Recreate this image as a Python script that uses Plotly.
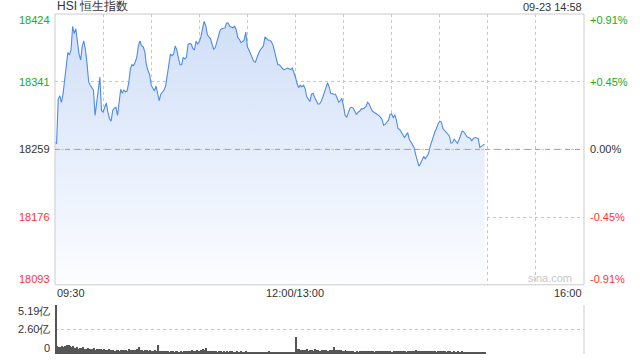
import plotly.graph_objects as go

# ---- data ----
title_text = "HSI 恒生指数"
stamp_text = "09-23 14:58"
prev_close = 18258.5
price_ticks = [18424, 18341, 18259, 18176, 18093]
price_tick_vals = [18424, 18341.25, 18258.5, 18175.75, 18093]
pct_labels = ["+0.91%", "+0.45%", "0.00%", "-0.45%", "-0.91%"]
time_tick_pos = [0, 150, 330]
time_tick_labels = ["09:30", "12:00/13:00", "16:00"]
vol_ticks = [0, 2.60, 5.19]
vol_tick_labels = ["0", "2.60亿", "5.19亿"]

# minute index since 09:30 (trading minutes, lunch removed), 0..268
price = [
    18267, 18266, 18320, 18324, 18316, 18326, 18343, 18359, 18377, 18374,
    18380, 18409, 18400, 18406, 18390, 18375, 18368, 18385, 18391, 18380,
    18363, 18341, 18337, 18333, 18331, 18300, 18317, 18335, 18347, 18306,
    18304, 18310, 18315, 18304, 18296, 18293, 18306, 18309, 18310, 18300,
    18316, 18332, 18327, 18331, 18329, 18330, 18340, 18357, 18362, 18361,
    18365, 18371, 18385, 18391, 18385, 18384, 18378, 18362, 18355, 18350,
    18337, 18334, 18330, 18336, 18327, 18318, 18326, 18328, 18331, 18336,
    18350, 18365, 18375, 18373, 18375, 18385, 18380, 18370, 18362, 18362,
    18371, 18369, 18371, 18387, 18388, 18387, 18382, 18380, 18391, 18387,
    18390, 18396, 18405, 18415, 18410, 18399, 18396, 18394, 18387, 18381,
    18383, 18391, 18399, 18404, 18406, 18407, 18407, 18413, 18413, 18409,
    18408, 18407, 18409, 18405, 18395, 18393, 18389, 18391, 18392, 18402,
    18384, 18380, 18375, 18369, 18366, 18365, 18372, 18376, 18380, 18382,
    18385, 18396, 18394, 18392, 18392, 18390, 18386, 18378, 18368, 18362,
    18362, 18359, 18357, 18356, 18357, 18358, 18357, 18356, 18358, 18353,
    18347, 18339, 18334, 18337, 18335, 18337, 18333, 18323, 18320, 18317,
    18326, 18327, 18322, 18317, 18314, 18314, 18317, 18322, 18327, 18334,
    18340, 18335, 18327, 18326, 18326, 18326, 18320, 18316, 18318, 18321,
    18311, 18300, 18298, 18305, 18309, 18310, 18309, 18305, 18301, 18304,
    18305, 18308, 18308, 18309, 18311, 18316, 18314, 18309, 18305, 18304,
    18303, 18302, 18300, 18298, 18295, 18288, 18289, 18292, 18294, 18301,
    18302, 18297, 18301, 18294, 18284, 18283, 18280, 18277, 18273, 18276,
    18279, 18271, 18268, 18265, 18261, 18252, 18245, 18238, 18241, 18245,
    18250, 18247, 18250, 18253, 18262, 18269, 18274, 18280, 18284, 18290,
    18293, 18292, 18284, 18282, 18280, 18277, 18275, 18266, 18267, 18271,
    18269, 18266, 18270, 18277, 18281, 18280, 18276, 18274, 18273, 18272,
    18269, 18272, 18273, 18272, 18272, 18261, 18262, 18264, 18265,
]

# volume per minute, 亿
volume = [
    5.19, 0.85, 0.78, 0.72, 0.80, 0.75, 0.88, 0.92, 0.95, 0.90,
    0.70, 0.82, 0.65, 0.72, 0.55, 0.68, 0.60, 0.70, 0.50, 0.58,
    0.62, 0.48, 0.55, 0.52, 0.60, 0.45, 0.50, 0.48, 0.55, 0.42,
    0.50, 0.45, 0.40, 0.48, 0.38, 0.42, 0.45, 0.36, 0.40, 0.44,
    0.35, 0.42, 0.38, 0.46, 0.40, 0.36, 0.48, 0.42, 0.38, 0.45,
    0.40, 0.50, 0.78, 0.44, 0.40, 0.36, 0.42, 0.38, 0.35, 0.40,
    0.37, 0.33, 0.38, 0.35, 0.95, 0.36, 0.32, 0.30, 0.34, 0.28,
    0.30, 0.26, 0.32, 0.28, 0.25, 0.30, 0.27, 0.24, 0.29, 0.26,
    0.30, 0.33, 0.28, 0.35, 0.30, 0.38, 0.32, 0.28, 0.40, 0.36,
    0.33, 0.45, 0.50, 0.38, 0.60, 0.36, 0.30, 0.33, 0.28, 0.30,
    0.27, 0.25, 0.30, 0.28, 0.26, 0.29, 0.24, 0.27, 0.25, 0.28,
    0.30, 0.26, 0.24, 0.27, 0.23, 0.25, 0.28, 0.22, 0.26, 0.30,
    0.24, 0.22, 0.25, 0.21, 0.24, 0.22, 0.26, 0.23, 0.20, 0.24,
    0.22, 0.25, 0.21, 0.28, 0.23, 0.20, 0.22, 0.25, 0.21, 0.23,
    0.20, 0.22, 0.24, 0.21, 0.19, 0.22, 0.20, 0.23, 0.21, 0.25,
    1.80, 0.55, 0.48, 0.40, 0.45, 0.38, 0.42, 0.50, 0.36, 0.40,
    0.44, 0.35, 0.48, 0.38, 0.42, 0.36, 0.40, 0.45, 0.38, 0.42,
    0.36, 0.40, 0.38, 0.44, 0.75, 0.42, 0.38, 0.45, 0.40, 0.36,
    0.32, 0.38, 0.30, 0.28, 0.33, 0.27, 0.30, 0.26, 0.29, 0.25,
    0.32, 0.28, 0.34, 0.30, 0.27, 0.31, 0.28, 0.33, 0.29, 0.26,
    0.30, 0.27, 0.32, 0.28, 0.30, 0.34, 0.29, 0.27, 0.31, 0.28,
    0.26, 0.30, 0.33, 0.28, 0.30, 0.27, 0.29, 0.32, 0.28, 0.26,
    0.31, 0.29, 0.34, 0.30, 0.28, 0.45, 0.32, 0.29, 0.31, 0.27,
    0.30, 0.33, 0.28, 0.35, 0.30, 0.27, 0.32, 0.29, 0.26, 0.30,
    0.28, 0.31, 0.27, 0.29, 0.25, 0.28, 0.30, 0.26, 0.24, 0.27,
    0.25, 0.28, 0.24, 0.26, 0.30, 0.23, 0.25, 0.22, 0.26, 0.24,
    0.22, 0.25, 0.21, 0.24, 0.26, 0.22, 0.24, 0.23, 0.20,
]

minutes = list(range(len(price)))
vol_minutes = list(range(len(volume)))

FONT = "Liberation Sans, Arial, sans-serif"
GREEN = "#22aa22"
RED = "#ff3333"
DARK = "#333333"
GRID = "#c8c8c8"
BORDER = "#cccccc"

fig = go.Figure()

# baseline for gradient fill
fig.add_trace(go.Scatter(x=minutes, y=[price_ticks[-1]] * len(minutes), mode="lines",
                         line=dict(width=0), hoverinfo="skip", showlegend=False,
                         xaxis="x", yaxis="y"))
fig.add_trace(go.Scatter(
    x=minutes, y=price, mode="lines", line=dict(color="#4f8ae8", width=1.1),
    fill="tonexty",
    fillgradient=dict(type="vertical",
                      colorscale=[[0, "rgba(252,253,255,1)"], [0.5, "rgba(230,238,252,1)"],
                                  [1, "rgba(208,223,247,1)"]]),
    showlegend=False, xaxis="x", yaxis="y"))

fig.add_trace(go.Bar(x=vol_minutes, y=volume, marker=dict(color="#555555", line=dict(width=0)),
                     width=0.6, showlegend=False, xaxis="x2", yaxis="y2"))

fig.update_layout(
    width=640, height=360,
    margin=dict(l=55, r=56, t=14, b=6),
    paper_bgcolor="white", plot_bgcolor="white",
    font=dict(family=FONT, size=11, color=DARK),
    bargap=0,
    xaxis=dict(domain=[0, 1], range=[0, 330], tickvals=list(range(30, 330, 30)),
               showticklabels=False, showgrid=True, gridcolor=GRID, griddash="dot",
               gridwidth=1, zeroline=False, showline=False, ticks="", anchor="y"),
    yaxis=dict(domain=[0.2035, 1], range=[price_ticks[-1], price_ticks[0]],
               tickvals=[price_tick_vals[1], price_tick_vals[3]],
               showticklabels=False, showgrid=True, gridcolor=GRID, griddash="dot",
               zeroline=False, showline=False, ticks=""),
    xaxis2=dict(domain=[0, 1], range=[-0.5, 330], showticklabels=False, showgrid=False,
                zeroline=False, showline=False, ticks="", anchor="y2"),
    yaxis2=dict(domain=[0, 0.1441], range=[0, vol_ticks[-1]], tickvals=vol_ticks,
                showticklabels=False, showgrid=True, gridcolor=GRID, griddash="dot",
                zeroline=False, showline=False, ticks=""),
)

shapes = []
# main border
shapes.append(dict(type="rect", xref="x domain", yref="y domain", x0=0, x1=1, y0=0, y1=1,
                   line=dict(color=BORDER, width=1), layer="above"))
# previous close line: gray dots with orange dashes
shapes.append(dict(type="line", xref="x domain", yref="y", x0=0, x1=1,
                   y0=prev_close, y1=prev_close,
                   line=dict(color=GRID, width=1, dash="dot"), layer="above"))
shapes.append(dict(type="line", xref="x domain", yref="y", x0=0, x1=1,
                   y0=prev_close, y1=prev_close,
                   line=dict(color="#e8875f", width=1, dash="5px,5px"), layer="above"))
# volume right border
shapes.append(dict(type="line", xref="x2 domain", yref="y2 domain", x0=1, x1=1, y0=0, y1=1,
                   line=dict(color=BORDER, width=1)))
fig.update_layout(shapes=shapes)

ann = []
colors = [GREEN, GREEN, DARK, RED, RED]
shifts = [-6, 0, 0, 0, 6]
for val, lab, pct, c, s in zip(price_tick_vals, price_ticks, pct_labels, colors, shifts):
    ann.append(dict(x=0, xref="x domain", y=val, yref="y", text=str(lab), showarrow=False,
                    xanchor="right", xshift=-3, yshift=s, font=dict(color=c, size=11)))
    ann.append(dict(x=1, xref="x domain", y=val, yref="y", text=pct, showarrow=False,
                    xanchor="left", xshift=4, yshift=s, font=dict(color=c, size=11)))

vshift = [6, 0, -6]
for v, lab, s in zip(vol_ticks, vol_tick_labels, vshift):
    ann.append(dict(x=0, xref="x2 domain", y=v, yref="y2", text=lab, showarrow=False,
                    xanchor="right", xshift=-3, yshift=s, font=dict(color=DARK, size=11)))

anchors = ["left", "center", "right"]
for p, lab, a in zip(time_tick_pos, time_tick_labels, anchors):
    ann.append(dict(x=p, xref="x", y=0, yref="y domain", text=lab, showarrow=False,
                    xanchor=a, yanchor="top", yshift=0, font=dict(color=DARK, size=11)))

ann.append(dict(x=0, xref="paper", y=1, yref="paper", text=title_text, showarrow=False,
                xanchor="left", yanchor="bottom", yshift=-1, font=dict(color=DARK, size=12)))
ann.append(dict(x=1, xref="paper", y=1, yref="paper", text=stamp_text, showarrow=False,
                xanchor="right", yanchor="bottom", yshift=-1, font=dict(color=DARK, size=11)))
ann.append(dict(x=1, xref="x domain", y=0, yref="y domain", text="sina.com", showarrow=False,
                xanchor="right", yanchor="bottom", xshift=-10, yshift=-1,
                font=dict(color="#c8c8c8", size=11)))
fig.update_layout(annotations=ann)

fig.write_html("out.html", config={"displayModeBar": False},
               post_script="document.body.style.margin='0';document.body.style.overflow='hidden';")
